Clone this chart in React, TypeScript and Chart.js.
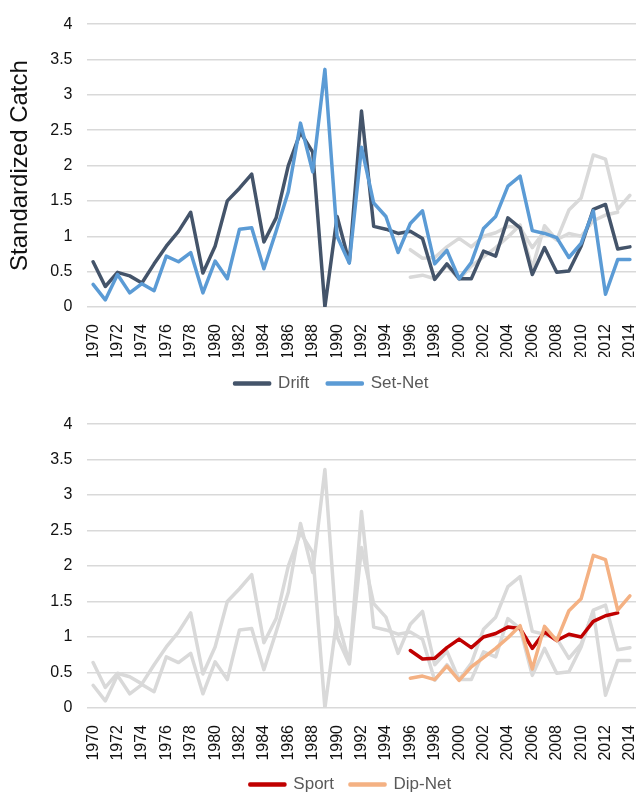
import React, { useEffect, useRef } from 'react';
import { Chart, registerables } from 'chart.js';

Chart.register(...registerables);

const years = [
  '1970', '1971', '1972', '1973', '1974', '1975', '1976', '1977', '1978', '1979',
  '1980', '1981', '1982', '1983', '1984', '1985', '1986', '1987', '1988', '1989',
  '1990', '1991', '1992', '1993', '1994', '1995', '1996', '1997', '1998', '1999',
  '2000', '2001', '2002', '2003', '2004', '2005', '2006', '2007', '2008', '2009',
  '2010', '2011', '2012', '2013', '2014',
];

const drift = [
  0.64, 0.29, 0.49, 0.44, 0.34, 0.61, 0.86, 1.07, 1.34, 0.48,
  0.86, 1.5, 1.68, 1.88, 0.92, 1.26, 2.0, 2.47, 2.19, 0.0,
  1.28, 0.63, 2.77, 1.14, 1.1, 1.04, 1.07, 0.97, 0.39, 0.61,
  0.4, 0.4, 0.79, 0.72, 1.26, 1.12, 0.46, 0.84, 0.49, 0.51,
  0.86, 1.38, 1.45, 0.82, 0.85,
];

const setNet = [
  0.32, 0.1, 0.46, 0.2, 0.33, 0.23, 0.72, 0.64, 0.77, 0.2,
  0.65, 0.4, 1.1, 1.12, 0.54, 1.07, 1.63, 2.6, 1.91, 3.36,
  1.0, 0.62, 2.26, 1.47, 1.28, 0.77, 1.18, 1.36, 0.61, 0.8,
  0.4, 0.63, 1.11, 1.28, 1.71, 1.85, 1.08, 1.04, 0.98, 0.7,
  0.9, 1.36, 0.18, 0.67, 0.67,
];

const sport = [
  null, null, null, null, null, null, null, null, null, null,
  null, null, null, null, null, null, null, null, null, null,
  null, null, null, null, null, null, 0.81, 0.69, 0.7, 0.85,
  0.97, 0.85, 1.0, 1.05, 1.14, 1.12, 0.84, 1.07, 0.95, 1.04,
  1.0, 1.22, 1.3, 1.34, null,
];

const dipNet = [
  null, null, null, null, null, null, null, null, null, null,
  null, null, null, null, null, null, null, null, null, null,
  null, null, null, null, null, null, 0.42, 0.45, 0.4, 0.59,
  0.39, 0.58, 0.71, 0.84, 0.99, 1.16, 0.55, 1.15, 0.95, 1.37,
  1.54, 2.15, 2.09, 1.38, 1.58,
];

const FONT = "'Liberation Sans', Arial, Helvetica, sans-serif";
const GREY = '#d9d9d9';

type Series = {
  label: string;
  data: (number | null)[];
  color: string;
  order: number;
  inLegend: boolean;
};

type PanelProps = {
  series: Series[];
  top: number;
  width: number;
  height: number;
  padLeft: number;
  padTop: number;
  padRight: number;
  rightSpace: number;
  legendGap: number;
  xAxisHeight: number;
  yTitle?: string;
};

function LinePanel(props: PanelProps) {
  const ref = useRef<HTMLCanvasElement>(null);
  useEffect(() => {
    const { series, padLeft, padTop, padRight, rightSpace, legendGap, xAxisHeight, yTitle } = props;
    const scales: any = {
      x: {
        offset: true,
        grid: { display: false, offset: true },
        border: { display: false },
        ticks: {
          autoSkip: false,
          minRotation: 90,
          maxRotation: 90,
          padding: 9,
          color: '#111',
          font: { family: FONT, size: 16 },
          callback: (_v: any, i: number) => (i % 2 === 0 ? years[i] : ''),
        },
        afterFit: (s: any) => {
          s.height = xAxisHeight;
        },
      },
      y: {
        position: 'left',
        min: 0,
        max: 4,
        border: { display: false },
        grid: { color: GREY, lineWidth: 1.5, drawTicks: false },
        ticks: {
          stepSize: 0.5,
          padding: 14.5,
          color: '#111',
          font: { family: FONT, size: 16 },
          callback: (v: any) => String(v),
        },
        title: {
          display: !!yTitle,
          text: yTitle || '',
          color: '#111',
          font: { family: FONT, size: 24, weight: 'normal' },
          padding: { top: 20 - padLeft - 14.4, bottom: 0 },
        },
        afterFit: (s: any) => {
          s.width = 87 - padLeft;
        },
      },
      yRight: {
        axis: 'y',
        position: 'right',
        display: true,
        grid: { display: false, drawTicks: false },
        border: { display: false },
        ticks: { display: false },
        afterFit: (s: any) => {
          s.width = rightSpace;
        },
      },
    };
    const chart = new Chart(ref.current as HTMLCanvasElement, {
      type: 'line',
      data: {
        labels: years,
        datasets: series.map((s) => ({
          label: s.label,
          data: s.data,
          borderColor: s.color,
          backgroundColor: s.color,
          borderWidth: 3.5,
          pointRadius: 0,
          pointHoverRadius: 0,
          tension: 0,
          fill: false,
          spanGaps: false,
          borderJoinStyle: 'round',
          borderCapStyle: 'round',
          order: s.order,
          yAxisID: 'y',
        })),
      },
      options: {
        responsive: false,
        animation: false,
        events: [],
        layout: { padding: { top: padTop, right: padRight, left: padLeft, bottom: 0 } },
        plugins: {
          tooltip: { enabled: false },
          legend: {
            position: 'bottom',
            align: 'center',
            labels: {
              boxWidth: 35,
              boxHeight: 1,
              padding: legendGap,
              color: '#595959',
              font: { family: FONT, size: 17 },
              filter: (item: any) => series[item.datasetIndex].inLegend,
              sort: (a: any, b: any) => a.datasetIndex - b.datasetIndex,
            },
          },
        },
        scales,
      } as any,
    });
    return () => chart.destroy();
  }, []);
  return (
    <canvas
      ref={ref}
      width={props.width}
      height={props.height}
      style={{ position: 'absolute', left: 0, top: props.top, width: props.width, height: props.height }}
    />
  );
}

export default function App() {
  const topSeries: Series[] = [
    { label: 'Drift', data: drift, color: '#44546a', order: 1, inLegend: true },
    { label: 'Set-Net', data: setNet, color: '#5b9bd5', order: 0, inLegend: true },
    { label: 'Sport (bg)', data: sport, color: GREY, order: 2, inLegend: false },
    { label: 'Dip-Net (bg)', data: dipNet, color: GREY, order: 3, inLegend: false },
  ];
  const bottomSeries: Series[] = [
    { label: 'Sport', data: sport, color: '#c00000', order: 1, inLegend: true },
    { label: 'Dip-Net', data: dipNet, color: '#f4b183', order: 0, inLegend: true },
    { label: 'Drift (bg)', data: drift, color: GREY, order: 2, inLegend: false },
    { label: 'Set-Net (bg)', data: setNet, color: GREY, order: 3, inLegend: false },
  ];
  return (
    <div
      style={{
        position: 'absolute',
        left: 0,
        top: 0,
        width: 637,
        height: 794,
        overflow: 'hidden',
        background: '#fff',
      }}
    >
      <LinePanel
        series={topSeries}
        top={0}
        width={662}
        height={402}
        padLeft={2}
        padTop={20}
        padRight={1}
        rightSpace={25}
        legendGap={18}
        xAxisHeight={50}
        yTitle="Standardized Catch"
      />
      <LinePanel
        series={bottomSeries}
        top={400}
        width={662}
        height={403}
        padLeft={40}
        padTop={21}
        padRight={1}
        rightSpace={25}
        legendGap={16}
        xAxisHeight={52}
      />
    </div>
  );
}
